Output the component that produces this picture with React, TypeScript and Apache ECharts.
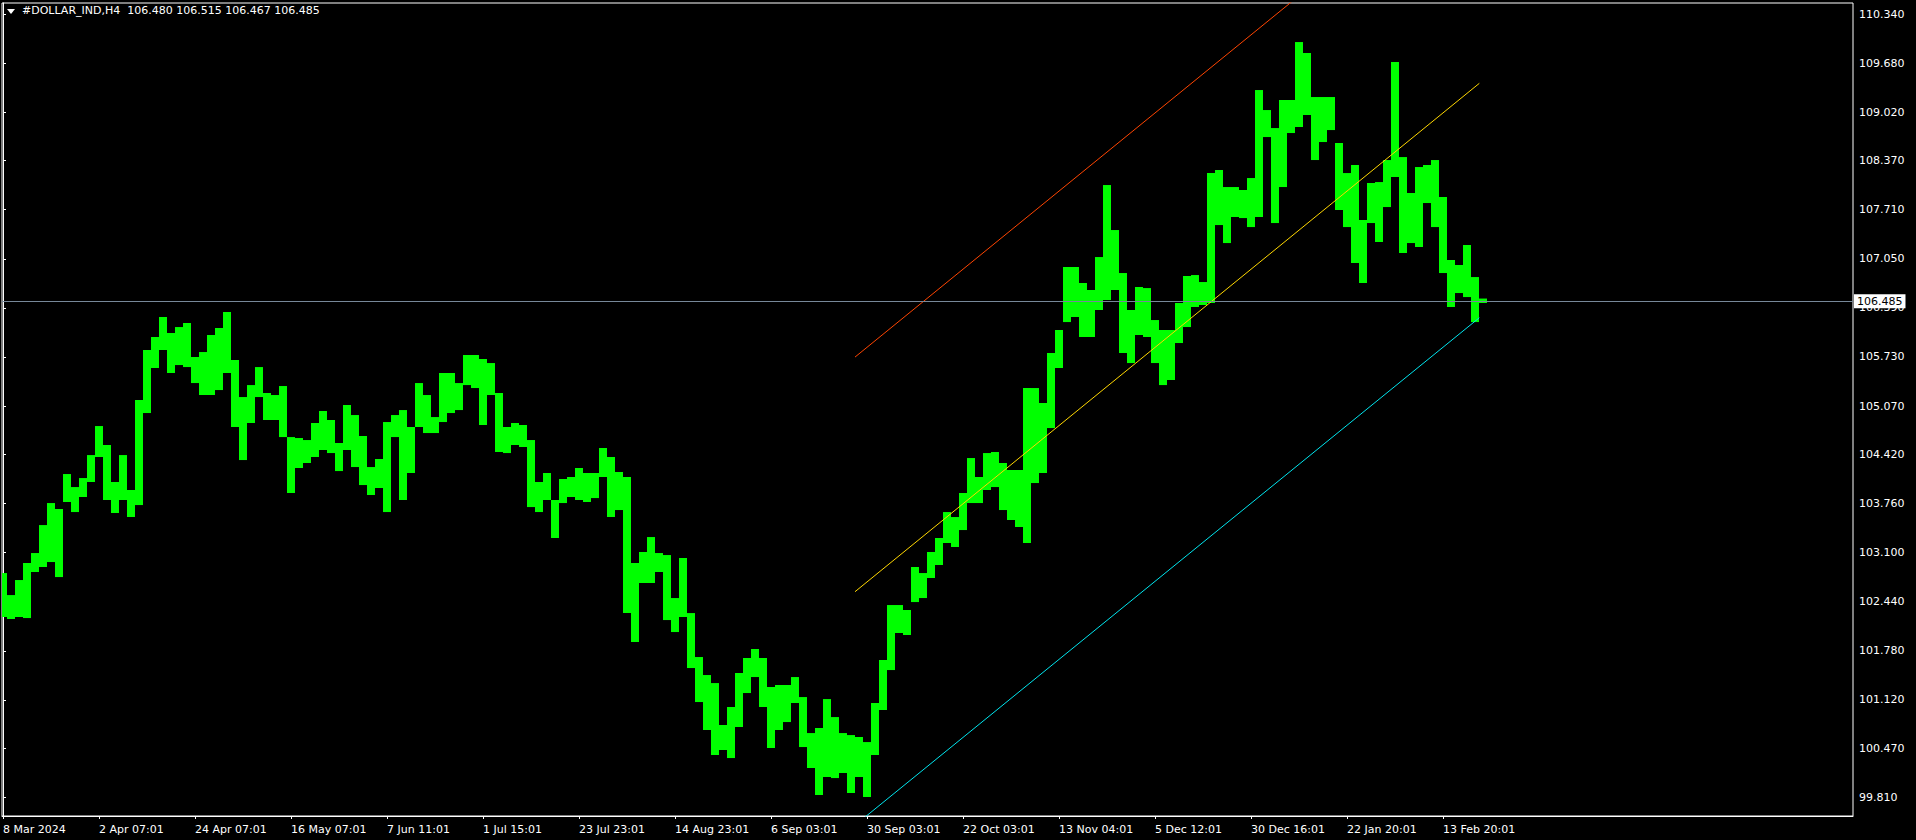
import { useEffect, useRef } from "react";
import * as echarts from "echarts";

// ---- text ----
const chartTitle = "#DOLLAR_IND,H4  106.480 106.515 106.467 106.485";
const lastPrice = 106.485;

// x tick labels (one every 12 bars of the data below)
const xTickLabels = [
  "8 Mar 2024", "2 Apr 07:01", "24 Apr 07:01", "16 May 07:01", "7 Jun 11:01",
  "1 Jul 15:01", "23 Jul 23:01", "14 Aug 23:01", "6 Sep 03:01", "30 Sep 03:01",
  "22 Oct 03:01", "13 Nov 04:01", "5 Dec 12:01", "30 Dec 16:01", "22 Jan 20:01",
  "13 Feb 20:01",
];

// y tick labels
const yTickLabels = [
  99.81, 100.47, 101.12, 101.78, 102.44, 103.1, 103.76, 104.42, 105.07,
  105.73, 106.39, 107.05, 107.71, 108.37, 109.02, 109.68, 110.34,
];

// ---- price data (each bar = 8 H4 bars) ----
const highs = [
  102.825, 102.529, 102.731, 102.960, 103.094, 103.470, 103.766, 103.686, 104.156, 103.981,
  104.102, 104.411, 104.801, 104.546, 104.049, 104.411, 103.941, 105.151, 105.823, 105.998,
  106.267, 106.052, 106.132, 106.186, 105.729, 105.796, 106.025, 106.119, 106.334, 105.689,
  105.191, 105.352, 105.594, 105.245, 105.218, 105.339, 104.653, 104.640, 104.613, 104.842,
  105.003, 104.882, 104.573, 105.084, 104.949, 104.667, 104.250, 104.358, 104.855, 104.949,
  105.016, 104.788, 105.379, 105.218, 104.922, 105.514, 105.514, 105.379, 105.756, 105.756,
  105.702, 105.648, 105.245, 104.788, 104.842, 104.815, 104.613, 104.049, 104.170, 103.807,
  104.089, 104.116, 104.237, 104.170, 104.170, 104.506, 104.385, 104.183, 104.116, 102.960,
  103.108, 103.309, 103.094, 103.067, 102.489, 103.027, 102.287, 101.696, 101.454, 101.346,
  100.782, 101.024, 101.481, 101.683, 101.804, 101.683, 101.293, 101.320, 101.320, 101.427,
  101.158, 100.674, 100.742, 101.131, 100.889, 100.674, 100.647, 100.621, 100.553, 101.078,
  101.656, 102.395, 102.395, 102.328, 102.906, 102.825, 103.108, 103.296, 103.645, 103.578,
  103.901, 104.371, 104.116, 104.438, 104.452, 104.304, 104.210, 104.210, 105.312, 105.312,
  105.111, 105.783, 106.092, 106.939, 106.939, 106.724, 106.630, 107.073, 108.041, 107.436,
  106.858, 106.361, 106.670, 106.656, 106.226, 106.092, 106.092, 106.455, 106.818, 106.831,
  106.737, 108.202, 108.243, 108.014, 108.014, 107.974, 108.135, 109.318, 109.049, 108.807,
  109.184, 109.184, 109.963, 109.816, 109.224, 109.224, 109.224, 108.606, 108.202, 108.310,
  107.571, 108.068, 108.081, 108.377, 109.695, 108.417, 107.934, 108.283, 108.310, 108.377,
  107.880, 107.033, 106.966, 107.235, 106.804, 106.515,
];

const lows = [
  102.234, 102.207, 102.234, 102.220, 102.839, 102.906, 102.973, 102.771, 103.780, 103.645,
  103.847, 104.049, 104.385, 103.807, 103.632, 103.807, 103.578, 103.739, 104.976, 105.581,
  105.823, 105.514, 105.621, 105.594, 105.379, 105.218, 105.218, 105.285, 105.514, 104.788,
  104.344, 104.842, 105.191, 104.882, 104.882, 104.653, 103.901, 104.237, 104.304, 104.385,
  104.479, 104.438, 104.196, 104.479, 104.250, 104.008, 103.874, 103.968, 103.645, 104.653,
  103.807, 104.170, 104.788, 104.707, 104.707, 104.855, 104.976, 105.016, 105.352, 105.312,
  104.815, 105.218, 104.452, 104.438, 104.546, 104.519, 103.712, 103.645, 103.807, 103.296,
  103.766, 103.847, 103.807, 103.780, 103.833, 104.116, 103.578, 103.672, 102.287, 101.898,
  102.691, 102.691, 102.839, 102.193, 102.032, 102.234, 101.548, 101.091, 100.715, 100.379,
  100.446, 100.338, 100.755, 101.212, 101.427, 101.024, 100.473, 100.715, 100.822, 101.078,
  100.486, 100.204, 99.841, 100.083, 100.069, 100.137, 99.868, 100.083, 99.814, 100.379,
  100.984, 101.521, 102.019, 101.992, 102.435, 102.489, 102.758, 102.933, 103.229, 103.175,
  103.403, 103.766, 103.766, 103.941, 103.981, 103.672, 103.538, 103.444, 103.229, 104.035,
  104.170, 104.774, 105.581, 106.199, 106.267, 105.998, 105.998, 106.361, 106.495, 106.630,
  105.783, 105.648, 106.025, 105.998, 105.648, 105.352, 105.420, 105.917, 106.132, 106.401,
  106.428, 106.455, 107.503, 107.261, 107.611, 107.597, 107.476, 107.611, 108.686, 107.530,
  108.014, 108.740, 108.821, 108.982, 108.377, 108.619, 108.780, 107.705, 107.476, 106.993,
  106.724, 107.530, 107.275, 107.745, 108.149, 107.127, 107.261, 107.208, 107.799, 107.476,
  106.858, 106.401, 106.589, 106.535, 106.199, 106.455,
];

// ---- channel lines: [start bar, end bar] and [start value, end value] ----
const channelBars = [106.5, 184.54];
const upperChannel = [105.728, 112.557];
const middleChannel = [102.574, 109.408];
const lowerChannel = [99.435, 106.257];

const BARS_PER_TICK = 12;
const FONT = '"DejaVu Sans", Verdana, sans-serif';

export default function App() {
  const ref = useRef<HTMLDivElement>(null);

  useEffect(() => {
    if (!ref.current) return;
    const chart = echarts.init(ref.current, null, { renderer: "svg" });

    const barData = highs.map((h, i) => [i, h, lows[i]]);
    const xTicks = xTickLabels.map((_, k) => k * BARS_PER_TICK);
    const chan = (vals: number[]) => [
      [channelBars[0], vals[0]],
      [channelBars[1], vals[1]],
    ];

    chart.setOption({
      animation: false,
      backgroundColor: "#000000",
      grid: {
        left: 2,
        top: 3,
        width: 1851,
        height: 813,
        show: true,
        borderColor: "#ffffff",
        borderWidth: 1,
        backgroundColor: "#000000",
        outerBoundsMode: "none",
        containLabel: false,
      },
      xAxis: {
        type: "value",
        min: -0.125,
        max: 231.25,
        position: "bottom",
        axisLine: { show: true, lineStyle: { color: "#ffffff", width: 1 } },
        axisTick: {
          show: true,
          length: 3,
          customValues: xTicks,
          lineStyle: { color: "#ffffff" },
        },
        axisLabel: {
          show: true,
          customValues: xTicks,
          formatter: (v: number) => xTickLabels[Math.round(v / BARS_PER_TICK)] ?? "",
          color: "#ffffff",
          fontFamily: FONT,
          fontSize: 11,
          align: "left",
          margin: 8,
        },
        splitLine: { show: false },
      },
      yAxis: {
        type: "value",
        position: "right",
        min: 99.559,
        max: 110.488,
        axisLine: { show: true, lineStyle: { color: "#ffffff", width: 1 } },
        axisTick: {
          show: true,
          length: 3,
          customValues: yTickLabels,
          lineStyle: { color: "#ffffff" },
        },
        axisLabel: {
          show: true,
          customValues: yTickLabels,
          formatter: (v: number) => v.toFixed(3),
          color: "#ffffff",
          fontFamily: FONT,
          fontSize: 11,
          margin: 6,
        },
        splitLine: { show: false },
      },
      graphic: [
        {
          type: "polygon",
          shape: { points: [[7, 9], [15, 9], [11, 14]] },
          style: { fill: "#ffffff" },
          silent: true,
        },
        {
          type: "text",
          left: 22,
          top: 5,
          style: {
            text: chartTitle,
            fill: "#ffffff",
            font: `11px ${FONT}`,
          },
          silent: true,
        },
      ],
      series: [
        {
          type: "line",
          name: "price",
          data: [],
          z: 1,
          markLine: {
            silent: true,
            symbol: ["none", "none"],
            animation: false,
            lineStyle: { color: "#778899", width: 1, type: "solid" },
            label: {
              show: true,
              position: "end",
              formatter: () => lastPrice.toFixed(3),
              color: "#000000",
              backgroundColor: "#ffffff",
              padding: [2, 3, 1, 3],
              fontFamily: FONT,
              fontSize: 11,
              distance: 1,
            },
            emphasis: { disabled: true },
            data: [{ yAxis: lastPrice }],
          },
        },
        {
          type: "custom",
          name: "bars",
          z: 2,
          clip: true,
          data: barData,
          encode: { x: 0, y: [1, 2] },
          renderItem: (_params: any, api: any) => {
            const i = api.value(0);
            const top = api.coord([i, api.value(1)]);
            const bottom = api.coord([i, api.value(2)]);
            const w = api.size([1, 0])[0];
            return {
              type: "rect",
              shape: {
                x: Math.round(top[0] - w / 2),
                y: top[1],
                width: Math.round(w),
                height: Math.max(1, bottom[1] - top[1]),
              },
              style: { fill: "#00ff00" },
            };
          },
        },
        {
          type: "line",
          name: "upper",
          z: 3,
          data: chan(upperChannel),
          showSymbol: false,
          symbol: "none",
          clip: true,
          lineStyle: { color: "#ff4500", width: 1 },
        },
        {
          type: "line",
          name: "middle",
          z: 3,
          data: chan(middleChannel),
          showSymbol: false,
          symbol: "none",
          clip: true,
          lineStyle: { color: "#ffd700", width: 1 },
        },
        {
          type: "line",
          name: "lower",
          z: 3,
          data: chan(lowerChannel),
          showSymbol: false,
          symbol: "none",
          clip: true,
          lineStyle: { color: "#00e5ee", width: 1 },
        },
      ],
    });

    return () => chart.dispose();
  }, []);

  return (
    <div
      ref={ref}
      style={{
        position: "fixed",
        left: 0,
        top: 0,
        width: 1916,
        height: 840,
        background: "#000000",
      }}
    />
  );
}
